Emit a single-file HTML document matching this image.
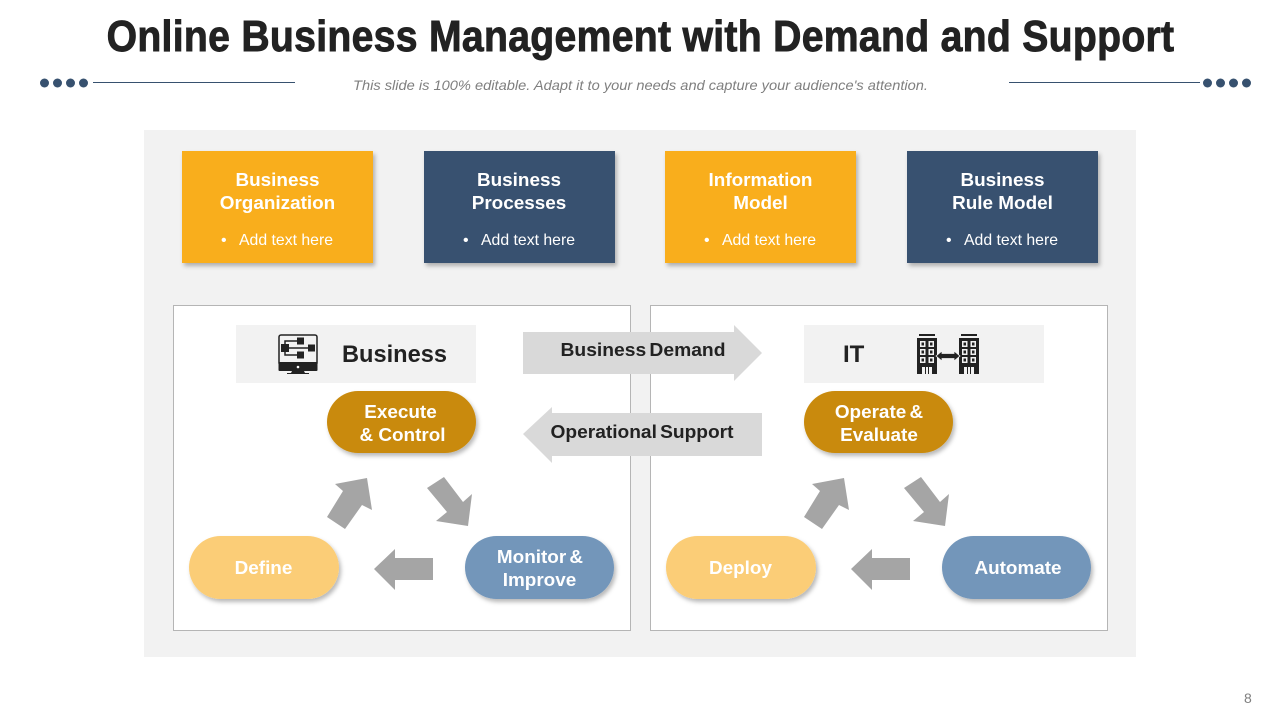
<!DOCTYPE html>
<html>
<head>
<meta charset="utf-8">
<style>
html,body{margin:0;padding:0;background:#fff;width:1280px;height:720px;overflow:hidden}
svg{display:block}
text{font-family:"Liberation Sans",sans-serif}
.b{font-weight:700}
.w{fill:#fff}
.t{font-size:18.9px;font-weight:700;fill:#fff;text-anchor:middle}
.s{font-size:16px;fill:#fff}
.k{fill:#222}
</style>
</head>
<body>
<svg width="1280" height="720" viewBox="0 0 1280 720" xmlns="http://www.w3.org/2000/svg">
<defs>
<filter id="sh" x="-10%" y="-15%" width="125%" height="135%">
<feDropShadow dx="2" dy="3" stdDeviation="2" flood-color="#000" flood-opacity="0.28"/>
</filter>
<g id="tri">
<polygon points="327,517 345,529 362,505 372,510 367,478 335,484 343,491" fill="#a5a5a5"/>
<polygon points="427,488 444,477 463,502 472,494 468,526 436,521 447,512" fill="#a5a5a5"/>
<polygon points="374,569 395,549 395,558 433,558 433,580 395,580 395,590" fill="#a5a5a5"/>
</g>
<g id="bld" fill="#222">
<rect x="2" y="0" width="16" height="2"/>
<path fill-rule="evenodd" d="M0 4H20V40H0ZM3 7V13H8.500V7ZM11.500 7V13H17V7ZM3 15V21H8.500V15ZM11.500 15V21H17V15ZM3 23V29H8.500V23ZM11.500 23V29H17V23ZM5 33V40H8V33ZM9 33V40H11V33ZM12 33V40H15V33Z"/>
<rect x="4.500" y="8.500" width="2.500" height="3"/><rect x="13" y="8.500" width="2.500" height="3"/>
<rect x="4.500" y="16.500" width="2.500" height="3"/><rect x="13" y="16.500" width="2.500" height="3"/>
<rect x="4.500" y="24.500" width="2.500" height="3"/><rect x="13" y="24.500" width="2.500" height="3"/>
</g>
</defs>

<text transform="translate(641,51) scale(0.89,1)" font-size="44" class="b" fill="#222" stroke="#222" stroke-width="0.9" text-anchor="middle" letter-spacing="1.5" textLength="1201" lengthAdjust="spacing">Online Business Management with Demand and Support</text>

<g fill="#37516f">
<circle cx="44.500" cy="83" r="4.500"/><circle cx="57.500" cy="83" r="4.500"/><circle cx="70.500" cy="83" r="4.500"/><circle cx="83.500" cy="83" r="4.500"/>
<circle cx="1207.500" cy="83" r="4.500"/><circle cx="1220.500" cy="83" r="4.500"/><circle cx="1233.500" cy="83" r="4.500"/><circle cx="1246.500" cy="83" r="4.500"/>
</g>
<rect x="93" y="82" width="202" height="1" fill="#37516f"/>
<rect x="1009" y="82" width="191" height="1" fill="#37516f"/>
<text x="353" y="90" font-size="14" font-style="italic" fill="#7f7f7f" textLength="575" lengthAdjust="spacingAndGlyphs">This slide is 100% editable.  Adapt it to your needs and capture your audience's attention.</text>

<rect x="144" y="130" width="992" height="527" fill="#f2f2f2"/>

<g filter="url(#sh)">
<rect x="182" y="151" width="191" height="112" fill="#f9ae1f"/>
</g>
<g filter="url(#sh)">
<rect x="424" y="151" width="191" height="112" fill="#37516f"/>
</g>
<g filter="url(#sh)">
<rect x="665" y="151" width="191" height="112" fill="#f9ae1f"/>
</g>
<g filter="url(#sh)">
<rect x="907" y="151" width="191" height="112" fill="#37516f"/>
</g>

<text class="t" x="277.500" y="186">Business</text>
<text class="t" x="277.500" y="209">Organization</text>
<text class="s" x="221" y="245">•</text>
<text class="s" x="239" y="245" textLength="94" lengthAdjust="spacingAndGlyphs">Add text here</text>

<text class="t" x="519" y="186">Business</text>
<text class="t" x="519" y="209">Processes</text>
<text class="s" x="463" y="245">•</text>
<text class="s" x="481" y="245" textLength="94" lengthAdjust="spacingAndGlyphs">Add text here</text>

<text class="t" x="760.500" y="186">Information</text>
<text class="t" x="760.500" y="209">Model</text>
<text class="s" x="704" y="245">•</text>
<text class="s" x="722" y="245" textLength="94" lengthAdjust="spacingAndGlyphs">Add text here</text>

<text class="t" x="1002.500" y="186">Business</text>
<text class="t" x="1002.500" y="209">Rule Model</text>
<text class="s" x="946" y="245">•</text>
<text class="s" x="964" y="245" textLength="94" lengthAdjust="spacingAndGlyphs">Add text here</text>

<rect x="173.500" y="305.500" width="457" height="325" fill="#fff" stroke="#b5b5b5"/>
<rect x="650.500" y="305.500" width="457" height="325" fill="#fff" stroke="#b5b5b5"/>

<rect x="236" y="325" width="240" height="58" fill="#f2f2f2"/>
<rect x="804" y="325" width="240" height="58" fill="#f2f2f2"/>

<text x="342" y="362" font-size="24" class="b k" textLength="105" lengthAdjust="spacingAndGlyphs">Business</text>
<text x="843" y="362" font-size="24" class="b k">IT</text>

<!-- monitor icon -->
<g>
<rect x="279" y="335" width="38" height="30" rx="2" fill="none" stroke="#222" stroke-width="1.500"/>
<path d="M278.500 362H317.500V370Q317.500 371 316.500 371H279.500Q278.500 371 278.500 370Z" fill="#222"/>
<circle cx="298" cy="367" r="1.300" fill="#fff"/>
<path d="M292 371H304L305 373H309V374H287V373H291Z" fill="#222"/>
<path d="M285 348V341H300M285 348H311M285 348V355H300" fill="none" stroke="#222" stroke-width="1.500"/>
<rect x="281" y="344" width="8" height="8" fill="#222"/>
<rect x="297" y="337.500" width="7" height="7" fill="#222"/>
<rect x="308" y="344.500" width="7" height="7" fill="#222"/>
<rect x="297" y="351.500" width="7" height="7" fill="#222"/>
</g>

<!-- buildings icon -->
<use href="#bld" x="917" y="334"/>
<use href="#bld" x="959" y="334"/>
<path d="M936 356L942 351V353.500H954V351L960 356L954 361V358.500H942V361Z" fill="#222" stroke="#f2f2f2" stroke-width="0.800"/>

<!-- center arrows -->
<polygon points="523,332 734,332 734,325 762,353 734,381 734,374 523,374" fill="#d9d9d9"/>
<polygon points="523,434 552,407 552,413 762,413 762,456 552,456 552,463" fill="#d9d9d9"/>
<text x="560.500" y="356" font-size="18" class="b k" textLength="165" lengthAdjust="spacingAndGlyphs" word-spacing="-2">Business Demand</text>
<text x="550.500" y="438" font-size="18" class="b k" textLength="183" lengthAdjust="spacingAndGlyphs" word-spacing="-2">Operational Support</text>

<!-- pills -->
<g filter="url(#sh)"><rect x="327" y="391" width="149" height="62" rx="31" fill="#c98a0a"/></g>
<g filter="url(#sh)"><rect x="189" y="536" width="150" height="63" rx="31.500" fill="#fbcd77"/></g>
<g filter="url(#sh)"><rect x="465" y="536" width="149" height="63" rx="31.500" fill="#7396ba"/></g>
<g filter="url(#sh)"><rect x="804" y="391" width="149" height="62" rx="31" fill="#c98a0a"/></g>
<g filter="url(#sh)"><rect x="666" y="536" width="150" height="63" rx="31.500" fill="#fbcd77"/></g>
<g filter="url(#sh)"><rect x="942" y="536" width="149" height="63" rx="31.500" fill="#7396ba"/></g>

<text class="t" x="400.500" y="418">Execute</text>
<text class="t" x="402.500" y="441">&amp; Control</text>
<text class="t" x="263.500" y="574">Define</text>
<text class="t" x="540" y="563" word-spacing="-2">Monitor &amp;</text>
<text class="t" x="539.500" y="586">Improve</text>
<text class="t" x="879" y="418" word-spacing="-2">Operate &amp;</text>
<text class="t" x="879" y="441">Evaluate</text>
<text class="t" x="740.500" y="574">Deploy</text>
<text class="t" x="1018" y="574">Automate</text>

<use href="#tri"/>
<use href="#tri" x="477"/>

<text x="1244" y="703" font-size="14" fill="#7f7f7f">8</text>
</svg>
</body>
</html>
